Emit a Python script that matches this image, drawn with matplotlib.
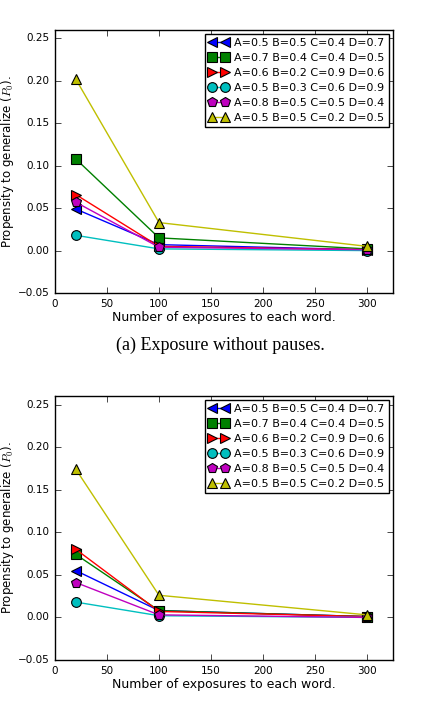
import matplotlib
matplotlib.use('Agg')
from matplotlib import pyplot as plt

exposures = [20, 100, 300]
labels = ['A=0.5 B=0.5 C=0.4 D=0.7',
          'A=0.7 B=0.4 C=0.4 D=0.5',
          'A=0.6 B=0.2 C=0.9 D=0.6',
          'A=0.5 B=0.3 C=0.6 D=0.9',
          'A=0.8 B=0.5 C=0.5 D=0.4',
          'A=0.5 B=0.5 C=0.2 D=0.5']
colors = ['b', 'g', 'r', 'c', 'm', 'y']
markers = ['<', 's', '>', 'o', 'p', '^']

# (a) without pauses
no_pause = [[0.049, 0.007, 0.001],
            [0.108, 0.015, 0.002],
            [0.066, 0.005, 0.001],
            [0.018, 0.002, 0.000],
            [0.057, 0.004, 0.001],
            [0.202, 0.033, 0.005]]
# (b) with pauses
with_pause = [[0.055, 0.008, 0.001],
              [0.074, 0.008, 0.001],
              [0.080, 0.007, 0.001],
              [0.018, 0.002, 0.000],
              [0.041, 0.003, 0.000],
              [0.174, 0.026, 0.003]]

plt.style.use('classic')
plt.rcParams['mathtext.fontset'] = 'cm'
plt.rcParams['font.family'] = 'DejaVu Sans'

fig = plt.figure(figsize=(4.4, 7.02), dpi=100, facecolor='white')
W, H = 440.0, 702.0
ax1 = fig.add_axes([55 / W, 1 - 293 / H, 338 / W, 263 / H])
ax2 = fig.add_axes([55 / W, 1 - 660 / H, 338 / W, 264 / H])

for ax, data in [(ax1, no_pause), (ax2, with_pause)]:
    for i in range(len(labels)):
        ax.plot(exposures, data[i], color=colors[i], marker=markers[i],
                markersize=7, markeredgecolor='k', markeredgewidth=0.8,
                linewidth=1, label=labels[i])
    ax.set_xlim(0, 325)
    ax.set_ylim(-0.05, 0.26)
    ax.set_xticks([0, 50, 100, 150, 200, 250, 300])
    ax.set_yticks([-0.05, 0.0, 0.05, 0.10, 0.15, 0.20, 0.25])
    ax.tick_params(labelsize=7.5)
    ax.set_xlabel('Number of exposures to each word.', fontsize=9, labelpad=2)
    ax.set_ylabel('Propensity to generalize ($P_0$).', fontsize=8.5, labelpad=1)
    ax.set_facecolor('white')
    leg = ax.legend(loc='upper right', numpoints=2, fontsize=8,
                    handlelength=1.8, handletextpad=0.5, labelspacing=0.45,
                    borderpad=0.35, borderaxespad=0.4)

fig.text(0.5, 1 - 350 / H, '(a) Exposure without pauses.', ha='center',
         fontsize=13, family='Liberation Serif')

fig.savefig('out.png', dpi=100, facecolor='white')
